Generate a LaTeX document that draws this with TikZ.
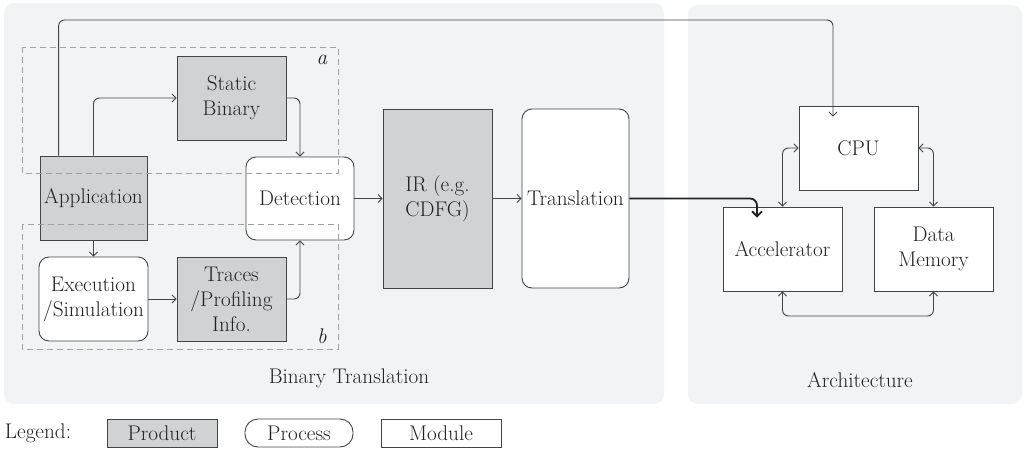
\documentclass[tikz,border=0pt]{standalone}
\usetikzlibrary{arrows.meta,calc}
\definecolor{panel}{HTML}{F2F3F5}
\definecolor{prod}{HTML}{D1D2D4}
\definecolor{edge}{HTML}{444444}
\definecolor{txt}{HTML}{222222}
\definecolor{dash}{HTML}{A0A0A0}
\begin{document}
\begin{tikzpicture}[x=1pt,y=-1pt,
  every node/.style={font=\fontsize{21.2}{25}\selectfont, text=txt, align=center},
  box/.style={draw=edge, line width=0.9pt, inner sep=0pt},
  product/.style={box, fill=prod},
  process/.style={box, fill=white, rounded corners=10pt},
  module/.style={box, fill=white},
  conn/.style={draw=edge, line width=0.9pt, rounded corners=6pt, -{Straight Barb[length=4pt,width=8pt]}},
  biconn/.style={conn, {Straight Barb[length=4pt,width=8pt]}-{Straight Barb[length=4pt,width=8pt]}},
  thickconn/.style={draw=txt, line width=1.8pt, rounded corners=7pt, -{Straight Barb[length=5pt,width=10pt]}},
  dashbox/.style={draw=dash, line width=0.8pt, dash pattern=on 6pt off 4pt},
  panelbox/.style={fill=panel, draw=none, rounded corners=10pt}
]
\useasboundingbox (0,0) rectangle (1028,450);
\fill[white] (0,0) rectangle (1028,450);
% panels
\path[panelbox] (4,3) rectangle (664,404);
\path[panelbox] (688,5) rectangle (1022,404);
\node (btlabel) at (349,378) {Binary Translation};
\node (archlabel) at (860,380) {Architecture};

% nodes
\node[product, minimum width=107pt, minimum height=84pt] (app) at (93.5,198) {Application};
\node[product, minimum width=109pt, minimum height=84pt] (sb) at (231.5,98) {Static\\Binary};
\node[process, minimum width=108pt, minimum height=83pt] (det) at (300,198.5) {Detection};
\node[process, minimum width=109pt, minimum height=84pt] (exe) at (93.5,299) {Execution\\/Simulation};
\node[product, minimum width=109pt, minimum height=84pt] (tr) at (231.5,299) {Traces\\/Profiling\\Info.};
\node[product, minimum width=109pt, minimum height=179pt] (ir) at (437.5,198.5) {IR (e.g.\\CDFG)};
\node[process, minimum width=107pt, minimum height=179pt] (trans) at (575.5,198.5) {Translation};
\node[module, minimum width=119pt, minimum height=84pt] (cpu) at (858.5,148) {CPU};
\node[module, minimum width=119pt, minimum height=84pt] (acc) at (782.5,249) {Accelerator};
\node[module, minimum width=119pt, minimum height=84pt] (dm) at (933.5,249) {Data\\Memory};

% dashed groups
\draw[dashbox] (22,47) rectangle (338,173);
\draw[dashbox] (22,224) rectangle (338,349);
\node[font=\fontsize{21.2}{25}\selectfont\itshape] (la) at (322,60) {a};
\node[font=\fontsize{21.2}{25}\selectfont\itshape] (lb) at (322,336) {b};

% helper coordinates
\coordinate (appout) at ([xshift=19pt]app.north west);
\coordinate (cpuin) at ([xshift=-25.5pt,yshift=-11pt]cpu.north);
\coordinate (toprow) at (0,20);
\coordinate (accin) at ([xshift=-25.5pt,yshift=-11pt]acc.north);
\coordinate (botrow) at (0,316);

% connectors
\draw[conn] (appout) |- (toprow -| cpuin) -- (cpuin);
\draw[conn] (app.north) |- (sb.west);
\draw[conn] (sb.east) -| (det.north);
\draw[conn] (app.south) -- (exe.north);
\draw[conn] (exe.east) -- (tr.west);
\draw[conn] (tr.east) -| (det.south);
\draw[conn] (det.east) -- (ir.west);
\draw[conn] (ir.east) -- (trans.west);
\draw[thickconn] (trans.east) -| (accin);
\draw[biconn] (cpu.west) -| (acc.north);
\draw[biconn] (cpu.east) -| (dm.north);
\draw[biconn] (acc.south) |- (botrow -| dm.south) -- (dm.south);

% legend
\node (leg) at (38,433) {Legend:};
\node[product, minimum width=110pt, minimum height=28pt] (lprod) at (162,433) {Product};
\node[process, rounded corners=13pt, minimum width=108pt, minimum height=28pt] (lproc) at (299,433) {Process};
\node[module, minimum width=120pt, minimum height=28pt] (lmod) at (441,433) {Module};
\end{tikzpicture}
\end{document}
